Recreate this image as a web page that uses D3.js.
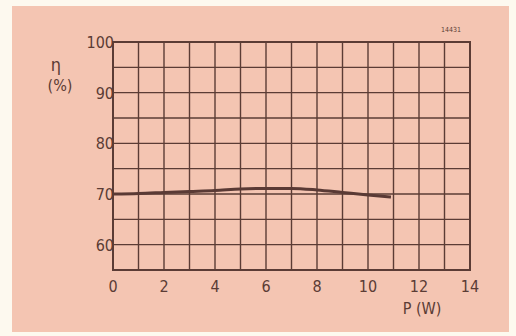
<!DOCTYPE html>
<html><head><meta charset="utf-8">
<script src="https://cdn.jsdelivr.net/npm/d3@7"></script>
<style>html,body{margin:0;padding:0;background:#fdf9ef;}svg{display:block;}</style>
</head><body>
<script>
const power = [0, 1, 2, 3, 4, 5, 6, 7, 8, 9, 10, 10.9];
const efficiency = [70, 70.1, 70.3, 70.5, 70.7, 71.0, 71.1, 71.1, 70.8, 70.3, 69.8, 69.4];
const xTicks = [0, 2, 4, 6, 8, 10, 12, 14];
const yTicks = [60, 70, 80, 90, 100];
const xGrid = d3.range(0, 15, 1);
const yGrid = d3.range(55, 101, 5);

const W = 516, H = 336;
const ink = "#5b3c35";
const svg = d3.select("body").append("svg").attr("width", W).attr("height", H);
svg.append("rect").attr("x", 0).attr("y", 0).attr("width", W).attr("height", H).attr("fill", "#fdf9ef");
svg.append("rect").attr("x", 12).attr("y", 6).attr("width", 497).attr("height", 326).attr("fill", "#f4c5b2");

const x = d3.scaleLinear().domain([0, 14]).range([113, 470]);
const y = d3.scaleLinear().domain([55, 100]).range([270, 42]);

const g = svg.append("g");
g.selectAll("line.v").data(xGrid).join("line")
  .attr("x1", d => x(d)).attr("x2", d => x(d)).attr("y1", y(55)).attr("y2", y(100))
  .attr("stroke", ink).attr("stroke-width", 1.4);
g.selectAll("line.h").data(yGrid).join("line")
  .attr("y1", d => y(d)).attr("y2", d => y(d)).attr("x1", x(0)).attr("x2", x(14))
  .attr("stroke", ink).attr("stroke-width", 1.4);
g.append("rect").attr("x", x(0)).attr("y", y(100)).attr("width", x(14) - x(0)).attr("height", y(55) - y(100))
  .attr("fill", "none").attr("stroke", ink).attr("stroke-width", 2);

const font = "'DejaVu Sans Condensed', 'Liberation Sans', sans-serif";
svg.selectAll("text.yt").data(yTicks).join("text")
  .attr("x", x(0) + 1).attr("y", d => y(d) + 6)
  .attr("text-anchor", "end").attr("font-family", font).attr("font-size", 16)
  .attr("fill", ink).text(d => d);
svg.selectAll("text.xt").data(xTicks).join("text")
  .attr("x", d => x(d)).attr("y", 292)
  .attr("text-anchor", "middle").attr("font-family", font).attr("font-size", 16)
  .attr("fill", ink).text(d => d);

svg.append("text").attr("x", 56).attr("y", 71).attr("text-anchor", "middle")
  .attr("font-family", font).attr("font-size", 18).attr("fill", ink).text("η");
svg.append("text").attr("x", 60).attr("y", 91).attr("text-anchor", "middle")
  .attr("font-family", font).attr("font-size", 16).attr("fill", ink).text("(%)");
svg.append("text").attr("x", 422).attr("y", 314).attr("text-anchor", "middle")
  .attr("font-family", font).attr("font-size", 16).attr("fill", ink).text("P (W)");
svg.append("text").attr("x", 451).attr("y", 32).attr("text-anchor", "middle")
  .attr("font-family", font).attr("font-size", 7).attr("fill", ink).text("14431");

const line = d3.line().x((d, i) => x(power[i])).y(d => y(d)).curve(d3.curveMonotoneX);
svg.append("path").attr("d", line(efficiency)).attr("fill", "none")
  .attr("stroke", "#5a3a35").attr("stroke-width", 3);
</script>
</body></html>
